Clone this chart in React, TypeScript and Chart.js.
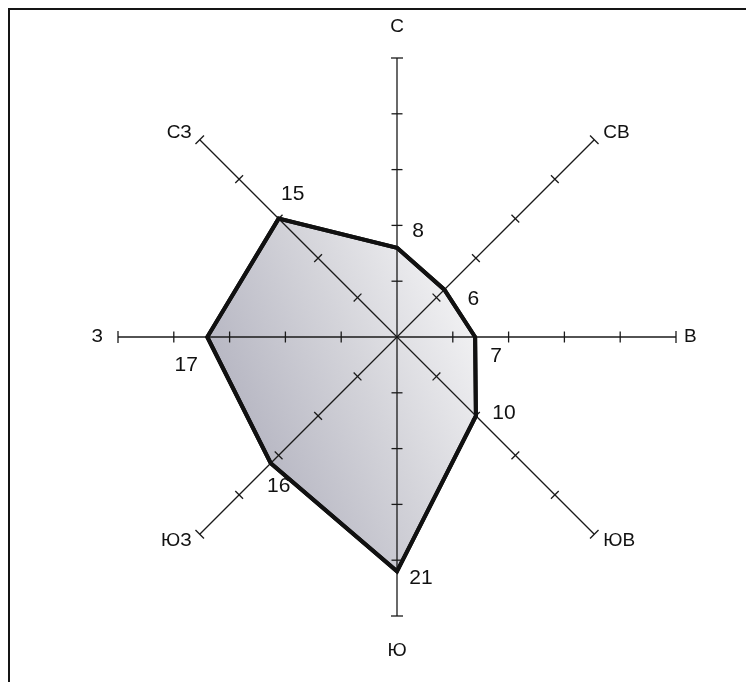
import React, { useEffect, useRef } from "react";
import { Chart, registerables } from "chart.js";

Chart.register(...registerables);

const directions = ["С", "СВ", "В", "ЮВ", "Ю", "ЮЗ", "З", "СЗ"];
const windValues = [8, 6, 7, 10, 21, 16, 17, 15];
const scaleMax = 25;
const scaleStep = 5;
// offsets of each value label relative to its data point (text centre)
const valueLabelOffsets: [number, number][] = [
  [21, -17],
  [29, 10],
  [21, 19],
  [28, -3],
  [24, 7],
  [8, 23],
  [-21, 28],
  [14, -24],
];

const FONT = "'Liberation Sans', Arial, sans-serif";

const axesPlugin = {
  id: "windAxes",
  afterDatasetsDraw(chart: any) {
    const scale = chart.scales.r;
    const ctx = chart.ctx as CanvasRenderingContext2D;
    const n = directions.length;
    ctx.save();
    ctx.strokeStyle = "#1a1a1a";
    ctx.lineWidth = 1.3;
    for (let i = 0; i < n; i++) {
      const angle = scale.getIndexAngle(i) - Math.PI / 2;
      const end = scale.getPointPosition(i, scale.drawingArea);
      ctx.beginPath();
      ctx.moveTo(scale.xCenter, scale.yCenter);
      ctx.lineTo(end.x, end.y);
      ctx.stroke();
      const px = -Math.sin(angle);
      const py = Math.cos(angle);
      for (let v = scaleStep; v <= scaleMax; v += scaleStep) {
        const d = scale.getDistanceFromCenterForValue(v);
        const p = scale.getPointPosition(i, d);
        const half = v === scaleMax ? 6 : 5.5;
        ctx.beginPath();
        ctx.moveTo(p.x - px * half, p.y - py * half);
        ctx.lineTo(p.x + px * half, p.y + py * half);
        ctx.stroke();
      }
    }
    const meta = chart.getDatasetMeta(0);
    ctx.strokeStyle = "#111";
    ctx.lineWidth = 4;
    ctx.lineJoin = "miter";
    ctx.beginPath();
    meta.data.forEach((pt: any, i: number) => {
      if (i === 0) ctx.moveTo(pt.x, pt.y);
      else ctx.lineTo(pt.x, pt.y);
    });
    ctx.closePath();
    ctx.stroke();

    ctx.fillStyle = "#111";
    ctx.font = `19px ${FONT}`;
    ctx.textBaseline = "middle";
    for (let i = 0; i < n; i++) {
      const angle = scale.getIndexAngle(i) - Math.PI / 2;
      const c = Math.cos(angle);
      const s = Math.sin(angle);
      const end = scale.getPointPosition(i, scale.drawingArea);
      let x = end.x;
      let y = end.y;
      if (Math.abs(c) < 0.01) {
        ctx.textAlign = "center";
        y += s < 0 ? -31 : 35;
      } else if (Math.abs(s) < 0.01) {
        if (c > 0) {
          ctx.textAlign = "left";
          x += 8;
        } else {
          ctx.textAlign = "right";
          x -= 15;
        }
      } else {
        if (c > 0) {
          ctx.textAlign = "left";
          x += 9;
        } else {
          ctx.textAlign = "right";
          x -= 8;
        }
        y += s < 0 ? -7 : 6;
      }
      ctx.fillText(directions[i], x, y);
    }

    ctx.font = `21px ${FONT}`;
    ctx.textAlign = "center";
    ctx.textBaseline = "middle";
    for (let i = 0; i < n; i++) {
      const p = scale.getPointPositionForValue(i, windValues[i]);
      const [ox, oy] = valueLabelOffsets[i];
      ctx.fillText(String(windValues[i]), p.x + ox, p.y + oy);
    }
    ctx.restore();
  },
};

export default function App() {
  const canvasRef = useRef<HTMLCanvasElement | null>(null);

  useEffect(() => {
    const canvas = canvasRef.current;
    if (!canvas) return;
    const chart = new Chart(canvas, {
      type: "radar",
      data: {
        labels: directions,
        datasets: [
          {
            data: windValues,
            fill: true,
            borderColor: "#111",
            borderWidth: 4,
            pointRadius: 0,
            pointHoverRadius: 0,
            backgroundColor: (context: any) => {
              const ch = context.chart;
              const area = ch.chartArea;
              if (!area) return "#ccc";
              const g = ch.ctx.createLinearGradient(190, 430, 480, 300);
              g.addColorStop(0, "#adadbb");
              g.addColorStop(0.55, "#d4d4da");
              g.addColorStop(1, "#f6f6f7");
              return g;
            },
          },
        ],
      },
      options: {
        responsive: false,
        animation: false,
        layout: { padding: { left: 108, right: 78, top: 48, bottom: 66 } },
        plugins: {
          legend: { display: false },
          tooltip: { enabled: false },
        },
        scales: {
          r: {
            min: 0,
            max: scaleMax,
            ticks: { display: false, stepSize: scaleStep },
            grid: { display: false },
            angleLines: { display: false },
            pointLabels: { display: false },
          },
        },
      },
      plugins: [axesPlugin],
    });
    return () => chart.destroy();
  }, []);

  return (
    <div
      style={{
        borderTop: "2px solid #151515",
        borderLeft: "2px solid #151515",
        width: 744,
        height: 672,
        background: "#fff",
      }}
    >
      <canvas
        ref={canvasRef}
        width={744}
        height={672}
        style={{ display: "block", width: 744, height: 672 }}
      />
    </div>
  );
}
